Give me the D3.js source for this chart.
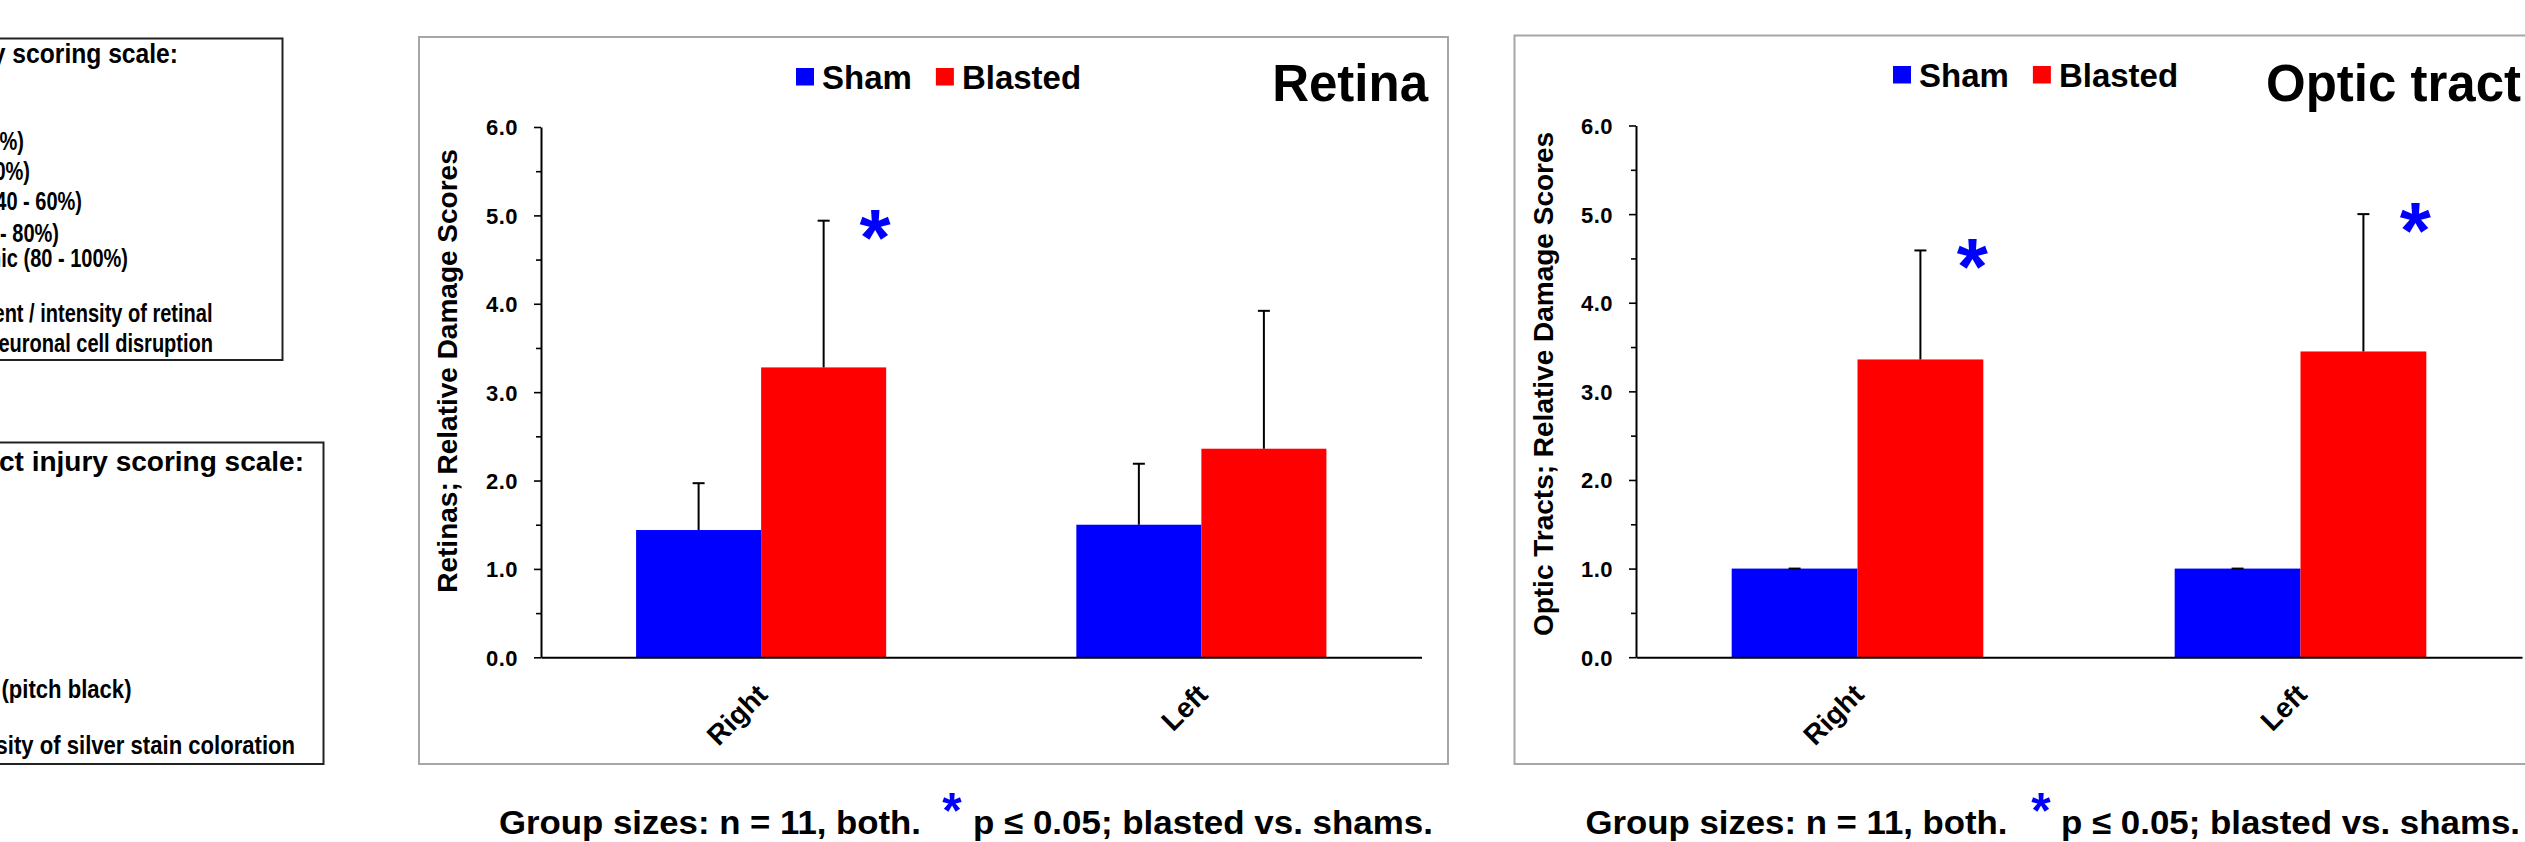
<!DOCTYPE html>
<html>
<head>
<meta charset="utf-8">
<script src="https://cdn.jsdelivr.net/npm/d3@7"></script>
<style>
  html, body { margin: 0; padding: 0; background: #fff; overflow: hidden; }
  svg { display: block; }
  text { font-family: "Liberation Sans", Arial, Helvetica, sans-serif; font-weight: bold; fill: #000; }
</style>
</head>
<body>
<svg id="fig" width="2525" height="842"></svg>
<script>
// ---- data ----
const categories = ["Right", "Left"];
const seriesNames = ["Sham", "Blasted"];
const seriesColors = ["#0000ff", "#ff0000"];
const yTickValues = [0, 1, 2, 3, 4, 5, 6];
const yMinorTickValues = [0.5, 1.5, 2.5, 3.5, 4.5, 5.5];

const retinaSham = [1.44, 1.50];
const retinaShamSem = [0.53, 0.69];
const retinaBlasted = [3.28, 2.36];
const retinaBlastedSem = [1.66, 1.56];
const retinaSignificant = [true, false];

const tractSham = [1.00, 1.00];
const tractShamSem = [0, 0];
const tractBlasted = [3.36, 3.45];
const tractBlastedSem = [1.23, 1.55];
const tractSignificant = [true, true];

const footerGroup = "Group sizes: n = 11, both.";
const footerStat = "p \u2264 0.05; blasted vs. shams.";

const retinaKeyTitle = "Retinal injury scoring scale:";
const retinaKeyLines = [
  "1 = minimal (0 - 20%)",
  "2 = mild (20 - 40%)",
  "3 = moderate (40 - 60%)",
  "4 = marked (60 - 80%)",
  "5 = massive / catastrophic (80 - 100%)",
  "% = extent / intensity of retinal",
  "neuronal cell disruption"
];
const tractKeyTitle = "Optic tract injury scoring scale:";
const tractKeyLines = [
  "5 = severe (pitch black)",
  "% = intensity of silver stain coloration"
];

const svg = d3.select("#fig");

// ---- scoring-scale key boxes (their left part runs off the page) ----
function drawKey(box, title, titleSpec, lines, lineSpecs, bodySize, bodyScale) {
  const g = svg.append("g");
  g.append("rect")
    .attr("x", -10).attr("y", box.top)
    .attr("width", box.right + 10).attr("height", box.bottom - box.top)
    .attr("fill", "none").attr("stroke", "#222").attr("stroke-width", 2);
  g.append("text")
    .attr("transform", `translate(${titleSpec.x},${titleSpec.y}) scale(${titleSpec.s},1)`)
    .attr("text-anchor", "end")
    .style("font-size", "28px")
    .text(title);
  lines.forEach((t, i) => {
    g.append("text")
      .attr("transform", `translate(${lineSpecs[i][0]},${lineSpecs[i][1]}) scale(${bodyScale},1)`)
      .attr("text-anchor", "end")
      .style("font-size", bodySize + "px")
      .text(t);
  });
}

drawKey({ top: 38.5, bottom: 360, right: 282.5 }, retinaKeyTitle, { x: 178, y: 63, s: 0.88 },
  retinaKeyLines,
  [[24, 150], [30, 180], [82, 210], [59, 241.5], [128, 266.5], [212.5, 321.5], [213, 351.5]],
  26, 0.77);

drawKey({ top: 442.5, bottom: 764, right: 323.5 }, tractKeyTitle, { x: 304, y: 471, s: 1 },
  tractKeyLines,
  [[131.5, 697.5], [295, 753.5]],
  26, 0.85);

// ---- bar chart panel ----
function drawPanel(cfg) {
  const g = svg.append("g");

  // frame
  g.append("rect")
    .attr("x", cfg.frame.x).attr("y", cfg.frame.y)
    .attr("width", cfg.frame.w).attr("height", cfg.frame.h)
    .attr("fill", "#fff").attr("stroke", "#a6a6a6").attr("stroke-width", 2);

  const y = d3.scaleLinear().domain([0, 6]).range([cfg.yBottom, cfg.yTop]);
  const x = d3.scaleBand().domain(categories).range([cfg.xLeft, cfg.xRight])
    .paddingInner(0.432).paddingOuter(0.216);
  const xs = d3.scaleBand().domain(seriesNames).range([0, x.bandwidth()]);

  const rows = categories.map((c, i) => ({
    cat: c,
    vals: [
      { s: seriesNames[0], v: cfg.sham[i], e: cfg.shamSem[i] },
      { s: seriesNames[1], v: cfg.blasted[i], e: cfg.blastedSem[i] }
    ],
    sig: cfg.sig[i]
  }));

  // minor ticks
  const minor = g.append("g").attr("transform", `translate(${cfg.xLeft},0)`)
    .call(d3.axisLeft(y).tickValues(yMinorTickValues).tickSize(5).tickSizeOuter(0).tickFormat(""));
  minor.select(".domain").remove();
  minor.selectAll("line").attr("stroke", "#000").attr("stroke-width", 1.6);

  // major y axis
  const ya = g.append("g").attr("transform", `translate(${cfg.xLeft},0)`)
    .call(d3.axisLeft(y).tickValues(yTickValues).tickFormat(d3.format(".1f"))
      .tickSize(7).tickSizeOuter(0).tickPadding(16));
  ya.select(".domain").attr("stroke", "#000").attr("stroke-width", 2);
  ya.selectAll("line").attr("stroke", "#000").attr("stroke-width", 1.6);
  ya.selectAll("text")
    .style("font-size", "22px")
    .style("letter-spacing", "0.5px")
    .attr("dy", "0.36em");

  // bars
  const grp = g.selectAll(".grp").data(rows).join("g")
    .attr("transform", d => `translate(${x(d.cat)},0)`);
  grp.selectAll("rect").data(d => d.vals).join("rect")
    .attr("x", d => xs(d.s))
    .attr("y", d => y(d.v))
    .attr("width", xs.bandwidth())
    .attr("height", d => y(0) - y(d.v))
    .attr("fill", (d, i) => seriesColors[i]);

  // error bars (upper half only)
  const eb = grp.selectAll(".eb").data(d => d.vals).join("g").attr("class", "eb");
  eb.append("line")
    .attr("x1", d => xs(d.s) + xs.bandwidth() / 2).attr("x2", d => xs(d.s) + xs.bandwidth() / 2)
    .attr("y1", d => y(d.v)).attr("y2", d => y(d.v + d.e))
    .attr("stroke", "#000").attr("stroke-width", 2);
  eb.append("line")
    .attr("x1", d => xs(d.s) + xs.bandwidth() / 2 - 6).attr("x2", d => xs(d.s) + xs.bandwidth() / 2 + 6)
    .attr("y1", d => y(d.v + d.e)).attr("y2", d => y(d.v + d.e))
    .attr("stroke", "#000").attr("stroke-width", 2);

  // significance asterisks
  grp.filter(d => d.sig).append("text")
    .attr("x", d => xs(seriesNames[1]) + xs.bandwidth() - 11)
    .attr("y", d => y(d.vals[1].v + d.vals[1].e) + 44)
    .attr("text-anchor", "middle")
    .style("font-size", "80px")
    .style("fill", "#0000ff")
    .text("*");

  // x axis
  const xa = g.append("g").attr("transform", `translate(0,${cfg.yBottom})`)
    .call(d3.axisBottom(x).tickSize(0).tickSizeOuter(0));
  xa.select(".domain").attr("stroke", "#000").attr("stroke-width", 2);
  xa.selectAll("text")
    .attr("x", 0).attr("y", 0).attr("dy", 0)
    .attr("text-anchor", "end")
    .attr("transform", "translate(8,39) rotate(-45)")
    .style("font-size", "28px");

  // y axis title
  g.append("text")
    .attr("transform", `translate(${cfg.yLabel.x},${cfg.yLabel.y}) rotate(-90)`)
    .attr("text-anchor", "middle")
    .attr("dy", "0.36em")
    .style("font-size", "28px")
    .text(cfg.yTitle);

  // legend
  const lg = g.append("g");
  let lx = cfg.legend.x;
  seriesNames.forEach((s, i) => {
    lg.append("rect").attr("x", lx).attr("y", cfg.legend.y).attr("width", 18).attr("height", 17.5)
      .attr("fill", seriesColors[i]);
    const t = lg.append("text").attr("x", lx + 26).attr("y", cfg.legend.y + 20.5)
      .style("font-size", "33px").text(s);
    lx = lx + 26 + t.node().getComputedTextLength() + 24;
  });

  // panel title
  g.append("text")
    .attr("x", cfg.title.x).attr("y", cfg.title.y)
    .attr("text-anchor", cfg.title.anchor)
    .style("font-size", "51px")
    .text(cfg.title.text);

  // footer
  const f = svg.append("g");
  f.append("text").attr("x", cfg.footer.x1).attr("y", cfg.footer.y)
    .attr("textLength", cfg.footer.w1).attr("lengthAdjust", "spacingAndGlyphs")
    .style("font-size", "33px").text(footerGroup);
  f.append("text").attr("x", cfg.footer.xa).attr("y", cfg.footer.y - 6)
    .attr("text-anchor", "middle")
    .style("font-size", "50px").style("fill", "#0000ff").text("*");
  f.append("text").attr("x", cfg.footer.x2).attr("y", cfg.footer.y)
    .attr("textLength", cfg.footer.w2).attr("lengthAdjust", "spacingAndGlyphs")
    .style("font-size", "33px").text(footerStat);
}

drawPanel({
  frame: { x: 419, y: 37, w: 1029, h: 727 },
  xLeft: 541, xRight: 1421.5, yBottom: 657.3, yTop: 127,
  sham: retinaSham, shamSem: retinaShamSem,
  blasted: retinaBlasted, blastedSem: retinaBlastedSem, sig: retinaSignificant,
  yTitle: "Retinas; Relative Damage Scores",
  yLabel: { x: 447, y: 371 },
  legend: { x: 796, y: 68 },
  title: { text: "Retina", x: 1428, y: 101, anchor: "end" },
  footer: { x1: 499, w1: 422, xa: 952, x2: 973, w2: 460, y: 834 }
});

drawPanel({
  frame: { x: 1514.5, y: 35.5, w: 1100, h: 728.5 },
  xLeft: 1636, xRight: 2522, yBottom: 657.2, yTop: 125.5,
  sham: tractSham, shamSem: tractShamSem,
  blasted: tractBlasted, blastedSem: tractBlastedSem, sig: tractSignificant,
  yTitle: "Optic Tracts; Relative Damage Scores",
  yLabel: { x: 1543, y: 384 },
  legend: { x: 1893, y: 66 },
  title: { text: "Optic tract", x: 2266, y: 101, anchor: "start" },
  footer: { x1: 1585.5, w1: 422, xa: 2041, x2: 2061, w2: 459, y: 834 }
});
</script>
</body>
</html>
